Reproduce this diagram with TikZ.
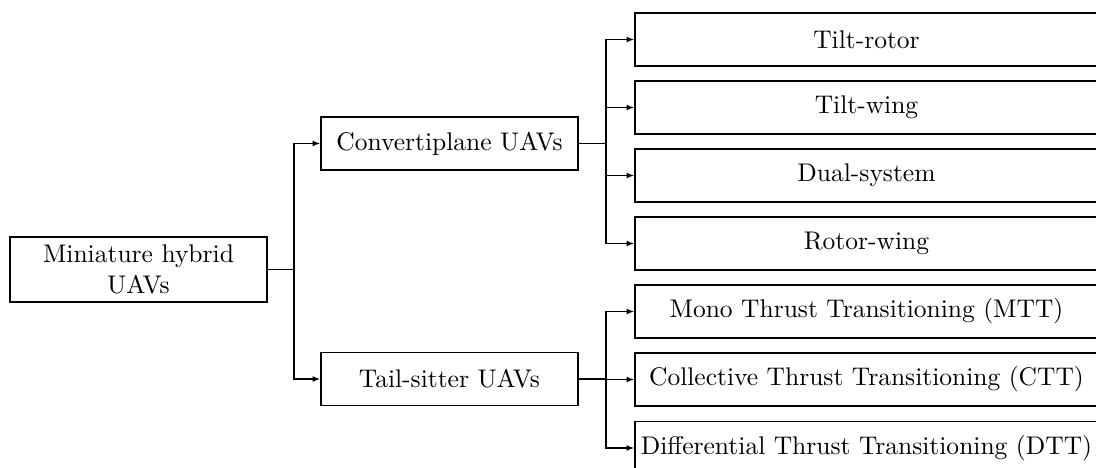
\documentclass[tikz,border=0pt]{standalone}
\usetikzlibrary{arrows.meta}
\begin{document}
\begin{tikzpicture}[x=0.392pt,y=-0.392pt,
  box/.style={draw,line width=0.55pt,align=center,inner sep=1pt,
    minimum height={53*0.392pt}},
  smallbox/.style={box,minimum width={257*0.392pt}},
  leafbox/.style={box,minimum width={463*0.392pt}},
  conn/.style={line width=0.55pt},
  arr/.style={conn,-{Latex[length=3pt,width=2.3pt]}}]
\useasboundingbox (0,0) rectangle (1096,468);
\node[smallbox,minimum height={65*0.392pt}] (root) at (138.5,269.5) {Miniature hybrid\\UAVs};
\node[smallbox] (conv) at (449.5,143.5) {Convertiplane UAVs};
\node[smallbox] (tail) at (449.5,379) {Tail-sitter UAVs};
\node[leafbox] (l1) at (866.5,39.5) {Tilt-rotor};
\node[leafbox] (l2) at (866.5,107.5) {Tilt-wing};
\node[leafbox] (l3) at (866.5,175.5) {Dual-system};
\node[leafbox] (l4) at (866.5,243.5) {Rotor-wing};
\node[leafbox] (l5) at (866.5,311.5) {Mono Thrust Transitioning (MTT)};
\node[leafbox] (l6) at (866.5,379.5) {Collective Thrust Transitioning (CTT)};
\node[leafbox] (l7) at (866.5,448) {Differential Thrust Transitioning (DTT)};
\draw[conn] (root.east) -- (294,269.5) coordinate (j0);
\draw[arr] (j0) |- (conv.west);
\draw[arr] (j0) |- (tail.west);
\draw[conn] (conv.east) -- (606,143.5) coordinate (j1);
\foreach \n in {l1,l2,l3,l4} \draw[arr] (j1) |- (\n.west);
\draw[conn] (tail.east) -- (606,379) coordinate (j2);
\foreach \n in {l5,l6,l7} \draw[arr] (j2) |- (\n.west);
\end{tikzpicture}
\end{document}
